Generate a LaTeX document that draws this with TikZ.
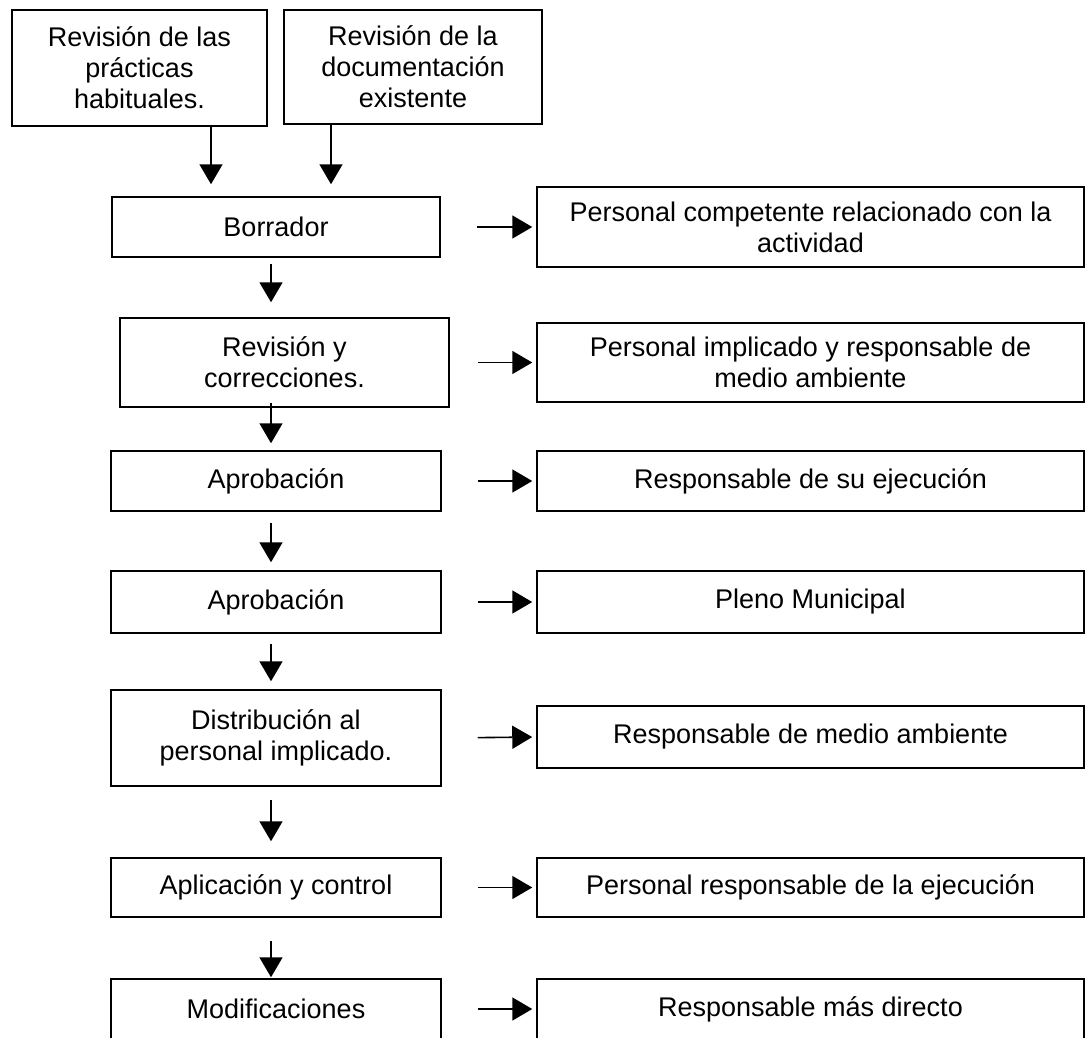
\documentclass[tikz,border=0pt]{standalone}
\usepackage{fontspec}
\setmainfont{Liberation Sans}
\usetikzlibrary{arrows.meta}
\tikzset{caja/.style = {draw, line width = 1.5pt, rectangle, inner sep = 0, align = center, font = \fontsize{27}{31}\selectfont},
  izq/.style = {caja, minimum width = 330pt},
  der/.style = {caja, minimum width = 547pt},
  flecha/.style = {line width = 1.6pt, -{Triangle[length = 20pt, width = 23pt]}}}

\begin{document}
\begin{tikzpicture}[x = 1pt, y = -1pt]
    \useasboundingbox (0, 0) rectangle (1090, 1037);

    \node [caja, minimum width = 255pt, minimum height = 116pt] (practicas) at (139.5, 68) {Revisión de las\\prácticas\\habituales.};
    \node [caja, minimum width = 258pt, minimum height = 114pt] (documentacion) at (413, 67) {Revisión de la\\documentación\\existente};

    \node [caja, minimum width = 328pt, minimum height = 60pt] (borrador) at (276, 227) {Borrador};
    \node [caja, minimum width = 329pt, minimum height = 89pt] (revision) at (284.5, 362.5) {Revisión y\\correcciones.};
    \node [izq, minimum height = 60pt] (aprob1) at (276, 481) {Aprobación};
    \node [izq, minimum height = 62pt] (aprob2) at (276, 602) {Aprobación};
    \node [izq, minimum height = 96pt] (distribucion) at (276, 738) {Distribución al\\personal implicado.};
    \node [izq, minimum height = 59pt] (aplicacion) at (276, 887.5) {Aplicación y control};
    \node [izq, minimum height = 60pt] (modificaciones) at (276, 1009) {Modificaciones};

    \node [der, minimum height = 80pt] (competente) at (810.5, 227) {Personal competente relacionado con la\\actividad};
    \node [der, minimum height = 79pt] (implicado) at (810.5, 362.5) {Personal implicado y responsable de\\medio ambiente};
    \node [der, minimum height = 60pt] (ejecucion) at (810.5, 481) {Responsable de su ejecución};
    \node [der, minimum height = 62pt] (pleno) at (810.5, 602) {Pleno Municipal};
    \node [der, minimum height = 62pt] (ambiente) at (810.5, 737) {Responsable de medio ambiente};
    \node [der, minimum height = 59pt] (personal) at (810.5, 887.5) {Personal responsable de la ejecución};
    \node [der, minimum height = 60pt] (directo) at (810.5, 1009) {Responsable más directo};

    \coordinate (col1) at (211, 0);
    \coordinate (col2) at (331, 0);
    \coordinate (eje) at (271, 0);

    \draw [flecha, shorten >= 12pt] (practicas.south -| col1) -- (borrador.north -| col1);
    \draw [flecha, shorten >= 12pt] (documentacion.south -| col2) -- (borrador.north -| col2);

    \draw [flecha, shorten <= 6pt, shorten >= 15pt] (borrador.south -| eje) -- (revision.north -| eje);
    \draw [flecha, shorten <= -5pt, shorten >= 7pt] (revision.south -| eje) -- (aprob1.north -| eje);
    \draw [flecha, shorten <= 11pt, shorten >= 8pt] (aprob1.south -| eje) -- (aprob2.north -| eje);
    \draw [flecha, shorten <= 10pt, shorten >= 8pt] (aprob2.south -| eje) -- (distribucion.north -| eje);
    \draw [flecha, shorten <= 13pt, shorten >= 16pt] (distribucion.south -| eje) -- (aplicacion.north -| eje);
    \draw [flecha, shorten <= 23pt, shorten >= 1pt] (aplicacion.south -| eje) -- (modificaciones.north -| eje);

    \draw [flecha, shorten <= 36pt, shorten >= 4pt] (borrador.east) -- (competente.west);
    \draw [flecha, shorten <= 28pt, shorten >= 4pt] (revision.east) -- (implicado.west);
    \draw [flecha, shorten <= 36pt, shorten >= 4pt] (aprob1.east) -- (ejecucion.west);
    \draw [flecha, shorten <= 36pt, shorten >= 4pt] (aprob2.east) -- (pleno.west);
    \draw [flecha, shorten <= 36pt, shorten >= 4pt] (distribucion.east) -- (ambiente.west);
    \draw [flecha, shorten <= 36pt, shorten >= 4pt] (aplicacion.east) -- (personal.west);
    \draw [flecha, shorten <= 36pt, shorten >= 4pt] (modificaciones.east) -- (directo.west);
  \end{tikzpicture}
\end{document}
